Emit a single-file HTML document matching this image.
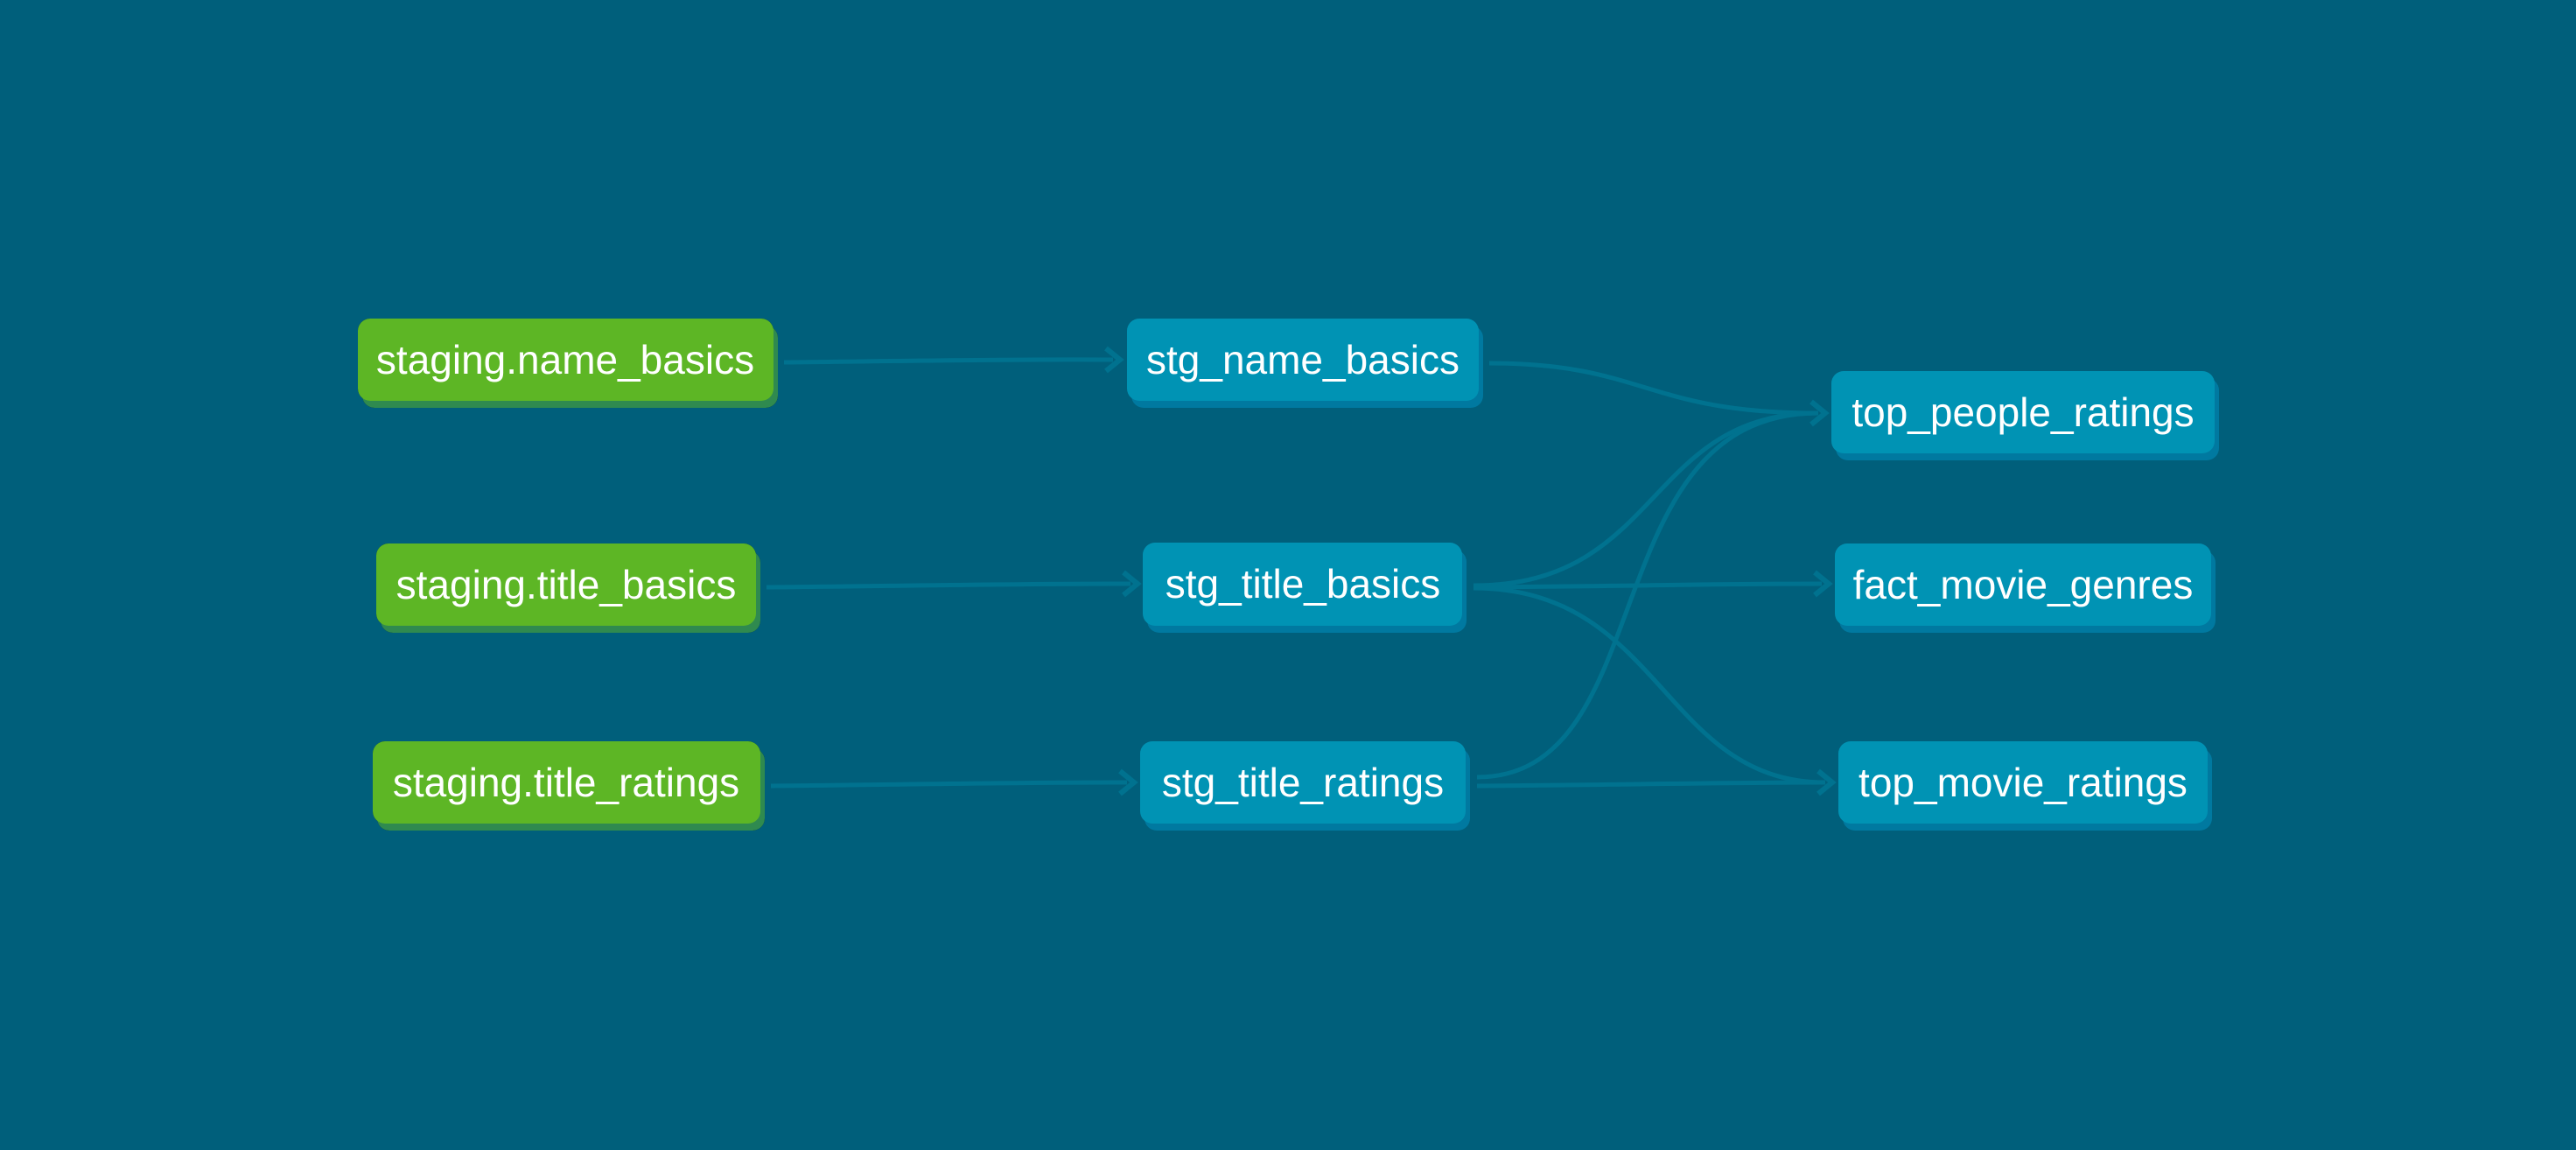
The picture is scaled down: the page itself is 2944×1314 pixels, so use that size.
<!DOCTYPE html>
<html><head><meta charset="utf-8"><style>
html,body{margin:0;padding:0;background:#005f7b;}
svg{display:block}
text{font-family:"Liberation Sans",sans-serif;font-size:46px;fill:#fff;text-anchor:middle;dominant-baseline:central}
</style></head><body>
<svg width="2944" height="1314" viewBox="0 0 2944 1314" xmlns="http://www.w3.org/2000/svg">
<rect width="2944" height="1314" fill="#005f7b"/>
<g fill="none" stroke="#00728f" stroke-width="5">
<path d="M896 414 C1000 413 1150 410 1272 411"/>
<path d="M876 671 C1000 670 1150 667 1292 667"/>
<path d="M881 898 C1000 897 1150 894 1288 894"/>
<path d="M1702 415 C1880 415 1880 472 2078 472"/>
<path d="M1684 669 C1900 669 1880 472 2078 472"/>
<path d="M1688 888 C1900 888 1820 472 2078 472"/>
<path d="M1684 671 C1850 670 1950 667 2082 667"/>
<path d="M1684 672 C1900 672 1900 894 2086 894"/>
<path d="M1688 898 C1850 897 1950 894 2086 894"/>
</g>
<g fill="none" stroke="#00728f" stroke-width="6" stroke-linejoin="miter">
<path d="M1264 398 L1280 411 L1264 424"/>
<path d="M1284 654 L1300 667 L1284 680"/>
<path d="M1280 881 L1296 894 L1280 907"/>
<path d="M2070 459 L2086 472 L2070 485"/>
<path d="M2074 654 L2090 667 L2074 680"/>
<path d="M2078 881 L2094 894 L2078 907"/>
</g>
<g style="filter:drop-shadow(0 0 0 #000)">
<rect x="414" y="372" width="475" height="94" rx="14" fill="#2f8a4f"/>
<rect x="409" y="364" width="475" height="94" rx="14" fill="#5db625"/>
<text x="646" y="411">staging.name_basics</text>
<rect x="435" y="629" width="434" height="94" rx="14" fill="#2f8a4f"/>
<rect x="430" y="621" width="434" height="94" rx="14" fill="#5db625"/>
<text x="647" y="668">staging.title_basics</text>
<rect x="431" y="855" width="443" height="94" rx="14" fill="#2f8a4f"/>
<rect x="426" y="847" width="443" height="94" rx="14" fill="#5db625"/>
<text x="647" y="894">staging.title_ratings</text>
</g>
<g>
<rect x="1293" y="372" width="402" height="94" rx="14" fill="#0079a0"/>
<rect x="1288" y="364" width="402" height="94" rx="14" fill="#0093b4"/>
<text x="1489" y="411">stg_name_basics</text>
<rect x="1311" y="628" width="365" height="95" rx="14" fill="#0079a0"/>
<rect x="1306" y="620" width="365" height="95" rx="14" fill="#0093b4"/>
<text x="1489" y="667">stg_title_basics</text>
<rect x="1308" y="855" width="372" height="94" rx="14" fill="#0079a0"/>
<rect x="1303" y="847" width="372" height="94" rx="14" fill="#0093b4"/>
<text x="1489" y="894">stg_title_ratings</text>
<rect x="2098" y="432" width="438" height="94" rx="14" fill="#0079a0"/>
<rect x="2093" y="424" width="438" height="94" rx="14" fill="#0093b4"/>
<text x="2312" y="471">top_people_ratings</text>
<rect x="2102" y="629" width="430" height="94" rx="14" fill="#0079a0"/>
<rect x="2097" y="621" width="430" height="94" rx="14" fill="#0093b4"/>
<text x="2312" y="668">fact_movie_genres</text>
<rect x="2106" y="855" width="422" height="94" rx="14" fill="#0079a0"/>
<rect x="2101" y="847" width="422" height="94" rx="14" fill="#0093b4"/>
<text x="2312" y="894">top_movie_ratings</text>
</g>
</svg>
</body></html>
